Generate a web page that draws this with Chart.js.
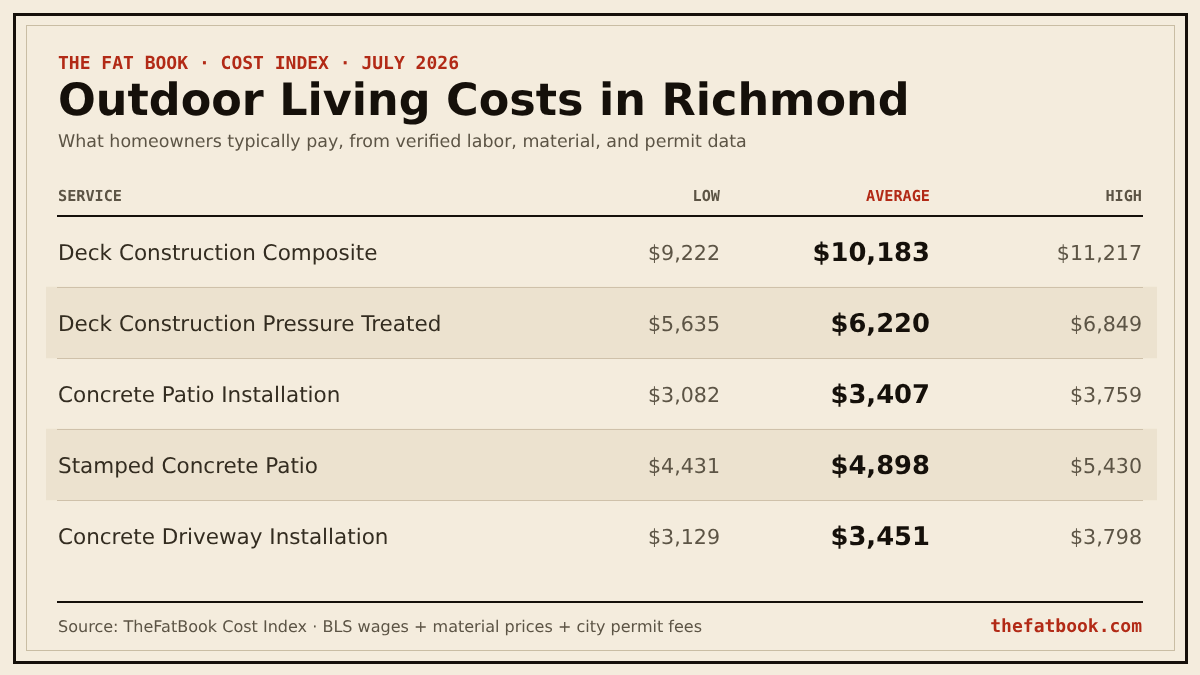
<!DOCTYPE html>
<html>
<head>
<meta charset="utf-8">
<title>Outdoor Living Costs in Richmond</title>
<script src="https://cdn.jsdelivr.net/npm/chart.js@4/dist/chart.umd.min.js"></script>
<style>
  html, body { margin: 0; padding: 0; background: #f4ecdd; }
  #wrap { position: relative; width: 1200px; height: 675px; overflow: hidden; }
</style>
</head>
<body>
<div id="wrap"><canvas id="costChart" width="1200" height="675"></canvas></div>
<script>
// Table data
const services = [
  'Deck Construction Composite',
  'Deck Construction Pressure Treated',
  'Concrete Patio Installation',
  'Stamped Concrete Patio',
  'Concrete Driveway Installation'
];
const lowValues = [9222, 5635, 3082, 4431, 3129];
const avgValues = [10183, 6220, 3407, 4898, 3451];
const highValues = [11217, 6849, 3759, 5430, 3798];
const rowBands = [null, [0, 1], null, [0, 1], null];
const columnHeads = ['LOW', 'AVERAGE', 'HIGH'];

const eyebrow = 'THE FAT BOOK · COST INDEX · JULY 2026';
const titleText = 'Outdoor Living Costs in Richmond';
const subtitle = 'What homeowners typically pay, from verified labor, material, and permit data';
const firstHead = 'SERVICE';
const sourceText = 'Source: TheFatBook Cost Index · BLS wages + material prices + city permit fees';
const siteText = 'thefatbook.com';

const INK = '#15100a';
const RED = '#b22a16';
const MUTED = '#5c5445';
const BODY = '#332c20';
const RULE = '#cfc1aa';
const SANS = '"DejaVu Sans"';
const MONO = '"DejaVu Sans Mono"';

function money(v) {
  return '$' + v.toLocaleString('en-US');
}

function put(ctx, text, x, y, font, color, align) {
  ctx.font = font;
  ctx.fillStyle = color;
  ctx.textAlign = align || 'left';
  ctx.textBaseline = 'alphabetic';
  ctx.fillText(text, x, y);
}

function hline(ctx, x1, x2, y, h, color) {
  ctx.fillStyle = color;
  ctx.fillRect(x1, y, x2 - x1, h);
}

// frame behind everything
const framePlugin = {
  id: 'frame',
  beforeDraw(chart) {
    const ctx = chart.ctx;
    ctx.textRendering = 'geometricPrecision';
    ctx.save();
    ctx.strokeStyle = INK;
    ctx.lineWidth = 3;
    ctx.strokeRect(14.5, 14.5, 1172, 648);
    ctx.strokeStyle = '#c9bda4';
    ctx.lineWidth = 1;
    ctx.strokeRect(26.5, 25.5, 1148, 625);
    ctx.restore();
  }
};

// headings, value columns and rules, placed off the category scale
const tablePlugin = {
  id: 'tableText',
  afterDraw(chart) {
    const ctx = chart.ctx;
    const y = chart.scales.y;
    const colRight = [720, 930, 1142];
    ctx.save();

    put(ctx, eyebrow, 58, 68.5, 'bold 18px ' + MONO, RED);
    put(ctx, titleText, 58, 115, 'bold 44.5px ' + SANS, INK);
    put(ctx, subtitle, 58, 147, '17.45px ' + SANS, MUTED);

    put(ctx, firstHead, 58, 201, 'bold 15.2px ' + MONO, MUTED);
    columnHeads.forEach((h, c) => {
      put(ctx, h, colRight[c], 201, 'bold 15.2px ' + MONO, c === 1 ? RED : MUTED, 'right');
    });
    hline(ctx, 57, 1143, 215, 2, INK);

    services.forEach((s, i) => {
      const mid = y.getPixelForValue(i);
      put(ctx, money(lowValues[i]), colRight[0], mid + 8, '20.6px ' + SANS, MUTED, 'right');
      put(ctx, money(avgValues[i]), colRight[1], mid + 9, 'bold 25.8px ' + SANS, INK, 'right');
      put(ctx, money(highValues[i]), colRight[2], mid + 8, '20.6px ' + SANS, MUTED, 'right');
      if (i < services.length - 1) {
        hline(ctx, 57, 1143, Math.round(mid + y.height / services.length / 2), 1, RULE);
      }
    });

    hline(ctx, 57, 1143, 601, 2, INK);
    put(ctx, sourceText, 58, 632, '16.05px ' + SANS, MUTED);
    put(ctx, siteText, 1142, 632, 'bold 18px ' + MONO, RED, 'right');
    ctx.restore();
  }
};

new Chart(document.getElementById('costChart'), {
  type: 'bar',
  data: {
    labels: services,
    datasets: [{
      data: rowBands,
      backgroundColor: '#ece2cf',
      borderWidth: 0,
      barPercentage: 1,
      categoryPercentage: 1
    }]
  },
  options: {
    indexAxis: 'y',
    responsive: false,
    animation: false,
    layout: { padding: { left: 46, right: 43, top: 216, bottom: 104 } },
    plugins: { legend: { display: false }, title: { display: false }, tooltip: { enabled: false } },
    scales: {
      x: { type: 'linear', min: 0, max: 1, display: false },
      y: {
        type: 'category',
        position: 'left',
        afterFit(scale) { scale.width = 0; },
        border: { display: false },
        grid: { display: false },
        ticks: {
          mirror: true,
          padding: 12,
          labelOffset: 3,
          z: 1,
          autoSkip: false,
          color: BODY,
          font: { family: SANS, size: 21.5 }
        }
      }
    }
  },
  plugins: [framePlugin, tablePlugin]
});
</script>
</body>
</html>
